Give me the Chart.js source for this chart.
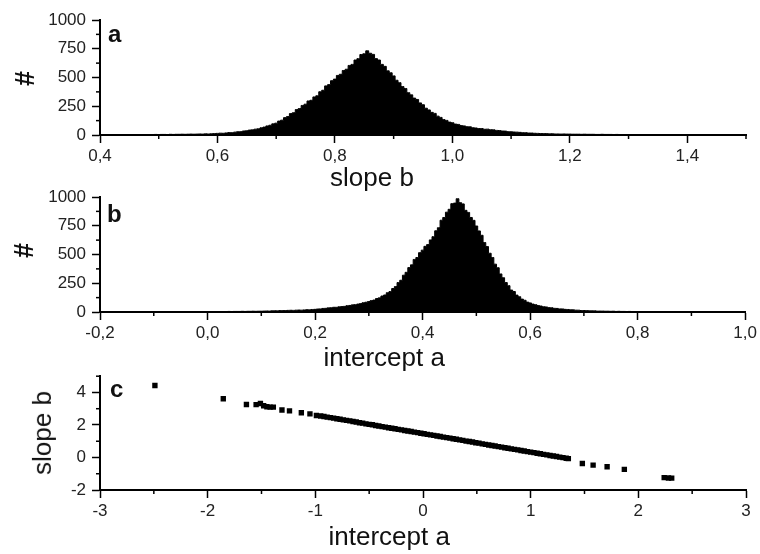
<!DOCTYPE html>
<html><head><meta charset="utf-8">
<script src="https://cdn.jsdelivr.net/npm/chart.js@4.4.1/dist/chart.umd.min.js"></script>
<style>
html,body{margin:0;padding:0;background:#fff;}
#wrap{position:relative;width:760px;height:554px;overflow:hidden;background:#fff;}
canvas{position:absolute;left:0;}
.t{position:absolute;white-space:nowrap;font-family:"Liberation Sans",Arial,sans-serif;color:#111;line-height:1;}
</style></head><body><div id="wrap">
<canvas id="ca" width="760" height="200" style="top:0px"></canvas>
<canvas id="cb" width="760" height="180" style="top:180px"></canvas>
<canvas id="cc" width="760" height="194" style="top:360px"></canvas>
</div>
<script>
// ---------- DATA ----------
// Panel a: histogram of slope b (bin width 0.005 starting at 0.400)
const slopeBinStart = 0.400;
const slopeBinWidth = 0.005;
const slopeCounts = [
2,1,2,3,2,2,3,2,3,3,2,3,4,3,3,4,3,4,4,5,
4,5,5,4,6,5,6,6,7,6,7,8,7,8,9,8,10,9,11,12,
14,16,15,18,21,20,25,28,29,35,37,43,45,51,54,63,69,79,85,97,
103,121,129,151,160,186,194,221,230,257,268,296,302,331,341,376,389,427,438,472,
486,518,528,561,572,605,614,652,664,700,706,732,711,701,664,652,614,597,558,541,
514,476,455,421,404,368,349,321,309,279,263,233,218,197,188,164,153,134,127,112,
107,95,92,82,79,72,71,63,61,56,56,50,51,46,45,40,39,35,34,29,
28,26,25,23,20,20,17,17,15,14,13,12,12,10,11,9,9,8,9,8,
8,7,7,7,6,7,6,6,6,5,5,6,5,5,5,4,5,4,4,4,
4,4,3,4,3,3,3,4,3,3,3,2,3,3,2,3,2,2,3,2,
2,2,1,2,2,1,2,1,2,1,1,2,1,1,2,1,1,1,1,1,1];

// Panel b: histogram of intercept a (bin width 0.005 starting at -0.200)
const interceptBinStart = -0.200;
const interceptBinWidth = 0.005;
const interceptCounts = [
1,1,1,1,1,2,1,1,1,2,1,1,2,1,2,1,2,2,1,2,
2,2,1,2,2,2,3,2,2,3,2,3,2,3,3,2,3,3,3,3,
3,3,4,3,4,4,3,4,5,4,5,5,5,6,5,6,6,7,6,7,
7,8,9,8,10,11,10,12,12,13,14,15,14,16,17,16,18,20,19,22,
23,26,27,31,32,36,37,41,41,45,47,49,55,57,62,64,69,73,81,85,
91,99,104,117,123,139,148,168,178,204,221,256,276,320,345,386,410,457,474,516,
538,571,586,627,655,706,733,798,822,868,893,942,947,985,951,940,884,866,822,797,
748,705,667,604,569,511,474,416,385,331,298,256,229,191,178,147,133,112,102,86,
79,69,64,56,52,46,44,38,37,32,31,27,27,23,22,20,19,16,16,13,
13,12,11,10,10,8,8,8,7,7,6,7,5,6,5,5,4,5,4,4,
4,3,4,3,3,3,3,2,3,3,2,3,2,2,3,2,2,2,2,2,
2,1,2,2,1,2,1,1,2,1,1,1,2,1,1,1,1,1,1,1,1];

// Panel c: scatter slope b vs intercept a
const scatterA = [
-2.49,-1.855,-1.64,-1.55,-1.51,-1.48,-1.45,-1.42,-1.39,-1.31,-1.24,-1.13,-1.05,-0.99,
-0.95,-0.92,-0.89,-0.86,-0.83,-0.80,-0.77,-0.74,-0.71,-0.68,-0.65,-0.62,-0.59,-0.56,-0.53,-0.50,
-0.47,-0.44,-0.41,-0.38,-0.35,-0.32,-0.29,-0.26,-0.23,-0.20,-0.17,-0.14,-0.11,-0.08,-0.05,-0.02,
0.01,0.04,0.07,0.10,0.13,0.16,0.19,0.22,0.25,0.28,0.31,0.34,0.37,0.40,0.43,0.46,0.49,0.52,0.55,
0.58,0.61,0.64,0.67,0.70,0.73,0.76,0.79,0.82,0.85,0.88,0.91,0.94,0.97,1.00,1.03,1.06,1.09,1.12,
1.15,1.18,1.21,1.24,1.27,1.30,1.33,1.35,
1.48,1.58,1.71,1.87,2.24,2.28,2.31];
const scatterB = [
4.43,3.61,3.26,3.25,3.32,3.18,3.12,3.10,3.10,2.92,2.87,2.75,2.68,2.58,
2.55,2.52,2.48,2.45,2.42,2.38,2.35,2.31,2.28,2.25,2.21,2.18,2.14,2.11,2.07,2.04,
2.01,1.97,1.94,1.90,1.87,1.83,1.80,1.77,1.73,1.70,1.66,1.63,1.60,1.56,1.53,1.49,
1.46,1.42,1.39,1.36,1.32,1.29,1.25,1.22,1.19,1.15,1.12,1.08,1.05,1.01,0.98,0.95,0.91,0.88,0.84,
0.81,0.77,0.74,0.71,0.67,0.64,0.60,0.57,0.53,0.50,0.47,0.43,0.40,0.36,0.33,0.30,0.26,0.23,0.19,
0.16,0.12,0.09,0.06,0.02,-0.01,-0.05,-0.07,
-0.37,-0.47,-0.57,-0.73,-1.24,-1.26,-1.27];

// ---------- STYLE / HELPERS ----------
const FONT = '"Liberation Sans", Arial, sans-serif';
const near = (v, s, o) => Math.abs(Math.round((v - o) / s) * s - (v - o)) < 1e-6;
const comma1 = v => (Math.abs(v) < 1e-9 ? 0 : v).toFixed(1).replace('.', ',');
const intFmt = v => String(Math.round(v));

function axis(dir, min, max, minorStep, majorStep, fmt, fitSize) {
  const isMajor = v => near(v, majorStep, min);
  return {
    type: 'linear', min, max,
    ticks: {
      stepSize: minorStep, autoSkip: false, maxRotation: 0, minRotation: 0, includeBounds: false,
      callback: v => isMajor(v) ? fmt(v) : '',
      color: '#222', font: { family: FONT, size: 17 }, padding: dir === 'x' ? 3 : 6
    },
    grid: {
      drawOnChartArea: false, drawTicks: true, tickLength: 8, tickWidth: 1.5,
      tickColor: c => (c.tick && isMajor(c.tick.value)) ? '#000' : 'rgba(0,0,0,0)'
    },
    border: { display: true, color: '#000', width: 2 },
    afterFit: s => { if (dir === 'x') s.height = fitSize; else s.width = fitSize; }
  };
}

const minorTicks = {
  id: 'minorTicks',
  afterDraw(chart) {
    const ctx = chart.ctx;
    ctx.save(); ctx.strokeStyle = '#000'; ctx.lineWidth = 1.5;
    ['x', 'y'].forEach(id => {
      const s = chart.scales[id];
      s.ticks.forEach(t => {
        if (t.label !== '') return;
        const p = s.getPixelForValue(t.value);
        ctx.beginPath();
        if (id === 'x') { ctx.moveTo(p, s.top); ctx.lineTo(p, s.top + 4); }
        else { ctx.moveTo(s.right, p); ctx.lineTo(s.right - 4, p); }
        ctx.stroke();
      });
    });
    ctx.restore();
  }
};

function histDataset(start, width, counts) {
  return {
    data: counts.map((c, i) => ({ x: start + i * width, y: c })),
    stepped: 'middle', fill: 'origin', backgroundColor: '#000', borderColor: '#000',
    borderWidth: 1, pointRadius: 0, tension: 0
  };
}

const common = {
  responsive: false, animation: false, devicePixelRatio: 1,
  plugins: { legend: { display: false }, tooltip: { enabled: false } },
  events: []
};

new Chart(document.getElementById('ca'), {
  type: 'line',
  data: { datasets: [histDataset(slopeBinStart, slopeBinWidth, slopeCounts)] },
  options: Object.assign({}, common, {
    layout: { padding: { left: 0, right: 14, top: 20, bottom: 0 } },
    scales: {
      x: axis('x', 0.4, 1.5, 0.1, 0.2, comma1, 65),
      y: axis('y', 0, 1000, 125, 250, intFmt, 100)
    }
  }),
  plugins: [minorTicks]
});

new Chart(document.getElementById('cb'), {
  type: 'line',
  data: { datasets: [histDataset(interceptBinStart, interceptBinWidth, interceptCounts)] },
  options: Object.assign({}, common, {
    layout: { padding: { left: 0, right: 14, top: 17, bottom: 0 } },
    scales: {
      x: axis('x', -0.2, 1.0, 0.1, 0.2, comma1, 48),
      y: axis('y', 0, 1000, 125, 250, intFmt, 100)
    }
  }),
  plugins: [minorTicks]
});

new Chart(document.getElementById('cc'), {
  type: 'scatter',
  data: { datasets: [{
    data: scatterA.map((a, i) => ({ x: a, y: scatterB[i] })),
    pointStyle: 'rect', pointRadius: 3.8, backgroundColor: '#000', borderWidth: 0
  }] },
  options: Object.assign({}, common, {
    layout: { padding: { left: 0, right: 14, top: 16, bottom: 0 } },
    scales: {
      x: axis('x', -3, 3, 0.5, 1, intFmt, 64),
      y: axis('y', -2, 5, 1, 2, intFmt, 100)
    }
  }),
  plugins: [minorTicks]
});

// ---------- TEXT OVERLAYS ----------
const wrap = document.getElementById('wrap');
function addText(txt, o) {
  const el = document.createElement('div');
  el.className = 't'; el.textContent = txt;
  el.style.fontSize = o.size + 'px';
  el.style.fontWeight = o.bold ? 'bold' : 'normal';
  wrap.appendChild(el);
  const w = el.offsetWidth;
  if (o.rotate) {
    el.style.left = (o.x - w / 2) + 'px';
    el.style.top = (o.y - o.size / 2) + 'px';
    el.style.transform = 'rotate(-90deg)';
  } else {
    el.style.left = (o.anchor === 'middle' ? o.x - w / 2 : o.x) + 'px';
    el.style.top = (o.y - 0.8465 * o.size) + 'px';
  }
}
addText('a', { x: 108, y: 42, size: 24, bold: true });
addText('b', { x: 107, y: 222, size: 24, bold: true });
addText('c', { x: 110, y: 397, size: 24, bold: true });
addText('#', { x: 25, y: 78, size: 27, bold: true, rotate: true });
addText('#', { x: 24, y: 250, size: 27, bold: true, rotate: true });
addText('slope b', { x: 42, y: 433, size: 26, rotate: true });
addText('slope b', { x: 372, y: 186, size: 26, anchor: 'middle' });
addText('intercept a', { x: 384, y: 366, size: 26, anchor: 'middle' });
addText('intercept a', { x: 389, y: 545, size: 26, anchor: 'middle' });
</script>
</body></html>
